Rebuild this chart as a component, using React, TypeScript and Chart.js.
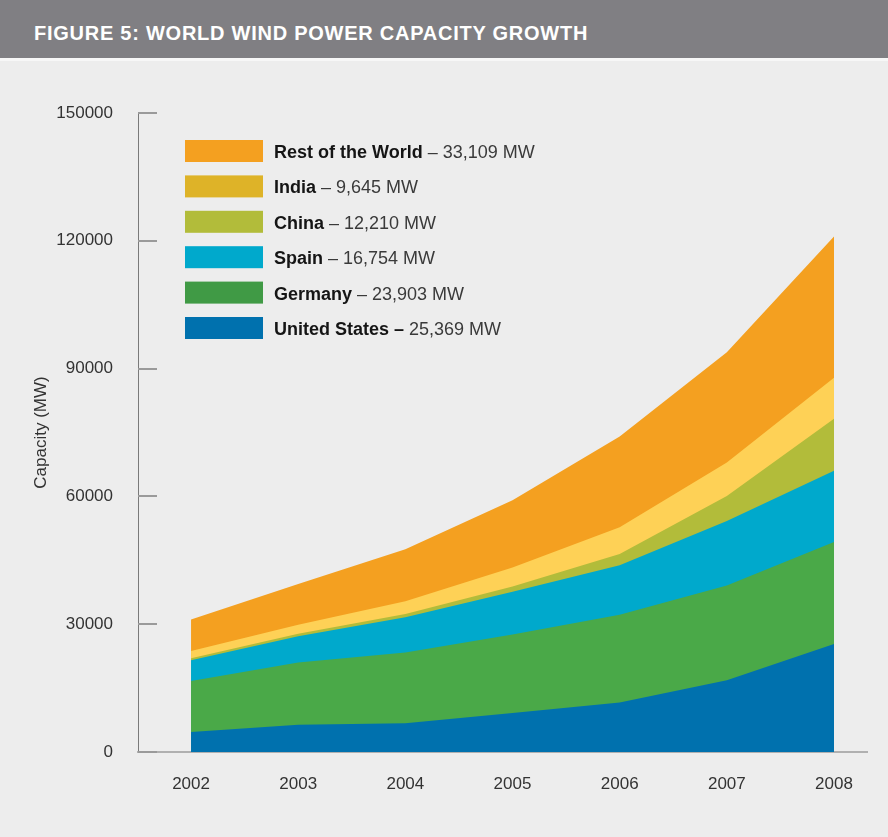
import React, { useEffect, useRef } from "react";
import { Chart, registerables } from "chart.js";

Chart.register(...registerables);

const title = "FIGURE 5: WORLD WIND POWER CAPACITY GROWTH";
const yAxisTitle = "Capacity (MW)";
const years = [2002, 2003, 2004, 2005, 2006, 2007, 2008];
const yTicks = [0, 30000, 60000, 90000, 120000, 150000];

const unitedStates = [4685, 6372, 6725, 9149, 11603, 16819, 25369];
const germany = [12001, 14609, 16629, 18428, 20622, 22247, 23903];
const spain = [4830, 6202, 8263, 10027, 11630, 15145, 16754];
const china = [468, 567, 764, 1260, 2604, 5912, 12210];
const india = [1702, 2125, 3000, 4430, 6270, 7845, 9645];
const restOfWorld = [7414, 9556, 12239, 15797, 21323, 25881, 33109];

const seriesNames = ["United States", "Germany", "Spain", "China", "India", "Rest of the World"];
const seriesValues = [unitedStates, germany, spain, china, india, restOfWorld];
const areaColors = ["#0071ae", "#4aa948", "#00a9cc", "#b2bc3a", "#fed156", "#f4a020"];

// legend (top to bottom)
const legendBold = ["Rest of the World", "India", "China", "Spain", "Germany", "United States \u2013"];
const legendRest = [" \u2013 33,109 MW", " \u2013 9,645 MW", " \u2013 12,210 MW", " \u2013 16,754 MW", " \u2013 23,903 MW", " 25,369 MW"];
const legendColors = ["#f4a020", "#deb328", "#b2bc3a", "#00a9cc", "#409a45", "#0071ae"];

const FONT = '"Liberation Sans", Arial, Helvetica, sans-serif';

const innerTicksPlugin = {
  id: "innerTicks",
  afterDraw(chart: any) {
    const { ctx, chartArea, scales } = chart;
    const y = scales.y;
    ctx.save();
    ctx.strokeStyle = "#9a9a9a";
    ctx.lineWidth = 2;
    y.ticks.forEach((t: any) => {
      const py = Math.round(y.getPixelForValue(t.value));
      ctx.beginPath();
      ctx.moveTo(chartArea.left, py);
      ctx.lineTo(chartArea.left + 19, py);
      ctx.stroke();
    });
    ctx.restore();
  },
};

const legendPlugin = {
  id: "customLegend",
  afterDraw(chart: any) {
    const { ctx } = chart;
    ctx.save();
    const x0 = 185;
    const y0 = 140;
    const step = 35.4;
    legendBold.forEach((b, i) => {
      const top = y0 + i * step;
      ctx.fillStyle = legendColors[i];
      ctx.fillRect(x0, top, 78, 22);
      const baseline = top + 18;
      ctx.textBaseline = "alphabetic";
      ctx.textAlign = "left";
      ctx.font = `bold 18px ${FONT}`;
      ctx.fillStyle = "#151515";
      ctx.fillText(b, 274, baseline);
      const w = ctx.measureText(b).width;
      ctx.font = `18px ${FONT}`;
      ctx.fillStyle = "#3a3a3a";
      ctx.fillText(legendRest[i], 274 + w, baseline);
    });
    ctx.restore();
  },
};

export default function App() {
  const ref = useRef<HTMLCanvasElement | null>(null);

  useEffect(() => {
    if (!ref.current) return;
    const chart = new Chart(ref.current, {
      type: "line",
      data: {
        datasets: seriesValues.map((vals, i) => ({
          label: seriesNames[i],
          data: vals.map((v, j) => ({ x: years[j], y: v })),
          backgroundColor: areaColors[i],
          borderColor: "rgba(0,0,0,0)",
          borderWidth: 0,
          pointRadius: 0,
          fill: "origin",
          tension: 0,
        })),
      },
      options: {
        animation: false,
        responsive: false,
        events: [],
        layout: { padding: { top: 113, right: 21, left: 0, bottom: 0 } },
        plugins: { legend: { display: false }, tooltip: { enabled: false } },
        scales: {
          x: {
            type: "linear",
            min: 2001.505,
            max: 2008.308,
            afterBuildTicks: (axis: any) => {
              axis.ticks = years.map((v) => ({ value: v }));
            },
            afterFit: (axis: any) => {
              axis.height = 85;
            },
            grid: { display: false, drawTicks: false },
            border: { display: true, color: "#b0b0b0", width: 2 },
            ticks: {
              padding: 22,
              color: "#333333",
              font: { family: FONT, size: 17 },
              callback: (v: any) => String(v),
              maxRotation: 0,
              autoSkip: false,
            },
          },
          y: {
            stacked: true,
            min: 0,
            max: 150000,
            afterBuildTicks: (axis: any) => {
              axis.ticks = yTicks.map((v) => ({ value: v }));
            },
            afterFit: (axis: any) => {
              axis.width = 138;
            },
            grid: { display: false, drawTicks: false },
            border: { display: true, color: "#7a7a7a", width: 1 },
            ticks: {
              padding: 25,
              color: "#333333",
              font: { family: FONT, size: 17 },
              callback: (v: any) => String(v),
            },
            title: {
              display: true,
              text: yAxisTitle,
              color: "#333333",
              font: { family: FONT, size: 17 },
              padding: { top: 31, bottom: 0 },
            },
          },
        },
      },
      plugins: [innerTicksPlugin, legendPlugin],
    } as any);
    return () => chart.destroy();
  }, []);

  return (
    <div
      style={{
        position: "absolute",
        left: 0,
        top: 0,
        width: 888,
        height: 837,
        background: "#ededed",
        overflow: "hidden",
      }}
    >
      <div
        style={{
          position: "absolute",
          left: 0,
          top: 0,
          width: 888,
          height: 61,
          background: "#f7f7f7",
        }}
      />
      <div
        style={{
          position: "absolute",
          left: 0,
          top: 0,
          width: 888,
          height: 58,
          background: "#807f83",
        }}
      >
        <div
          style={{
            position: "absolute",
            left: 34,
            top: 0,
            lineHeight: "66px",
            color: "#ffffff",
            fontFamily: FONT,
            fontWeight: "bold",
            fontSize: 20,
            letterSpacing: "0.75px",
            whiteSpace: "nowrap",
          }}
        >
          {title}
        </div>
      </div>
      <canvas
        ref={ref}
        width={888}
        height={837}
        style={{ position: "absolute", left: 0, top: 0, width: 888, height: 837 }}
      />
    </div>
  );
}
